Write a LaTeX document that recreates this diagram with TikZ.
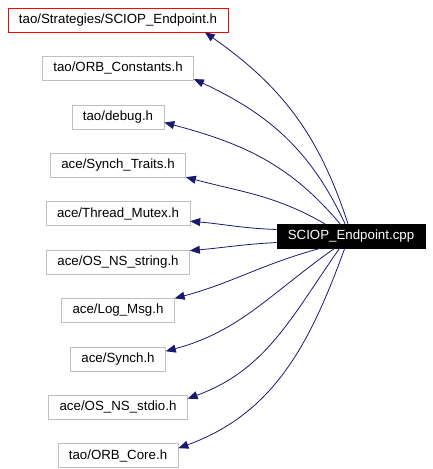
\documentclass[tikz,border=0pt]{standalone}
\usepackage{fontspec}
\setmainfont{Liberation Sans}
\usetikzlibrary{arrows.meta,positioning}
\definecolor{edgeblue}{HTML}{191970}
\definecolor{boxgray}{HTML}{BFBFBF}
\tikzset{
  basic/.style  = {draw, rectangle, font=\fontsize{13.3}{15}\selectfont,
                   inner xsep=11pt, inner ysep=0pt, minimum height=24pt},
  header/.style = {basic, draw=boxgray},
  root/.style   = {basic, draw=red},
  source/.style = {basic, fill=black, text=white},
  dep/.style    = {->, draw=edgeblue, line width=0.8pt}
}
\begin{document}
\begin{tikzpicture}[x=1pt, y=1pt, node distance=24pt,
    >={Triangle[length=10pt,width=8pt]}]
  \useasboundingbox (0,0) rectangle (432,-469);

  % the file that includes everything
  \node[source] (main) at (351,-236) {SCIOP\_Endpoint.cpp};

  % included headers, top to bottom
  \node[root] (h1) at (118,-20) {tao/Strategies/SCIOP\_Endpoint.h};
  \node[header, below=of h1] (h2) {tao/ORB\_Constants.h};
  \node[header, below=of h2] (h3) {tao/debug.h};
  \node[header, below=of h3] (h4) {ace/Synch\_Traits.h};
  \node[header, below=of h4] (h5) {ace/Thread\_Mutex.h};
  \node[header, below=of h5] (h6) {ace/OS\_NS\_string.h};
  \node[header, below=of h6] (h7) {ace/Log\_Msg.h};
  \node[header, below=of h7] (h8) {ace/Synch.h};
  \node[header, below=of h8] (h9) {ace/OS\_NS\_stdio.h};
  \node[header, below=of h9] (h10) {tao/ORB\_Core.h};

  % one edge per include: node / start anchor / out / end anchor / in
  \foreach \n/\s/\o/\t/\i in {1/104/108/352/325, 2/116/115/352/335,
      3/132/130/353/345, 4/155/150/350/345, 5/175/178/354/355,
      6/185/183/9/5, 7/202/195/12/15, 8/217/215/9/15,
      9/227/235/7/20, 10/243/250/7/20}
    \draw[dep] (main.\s) to[out=\o, in=\i] (h\n.\t);

\end{tikzpicture}
\end{document}
